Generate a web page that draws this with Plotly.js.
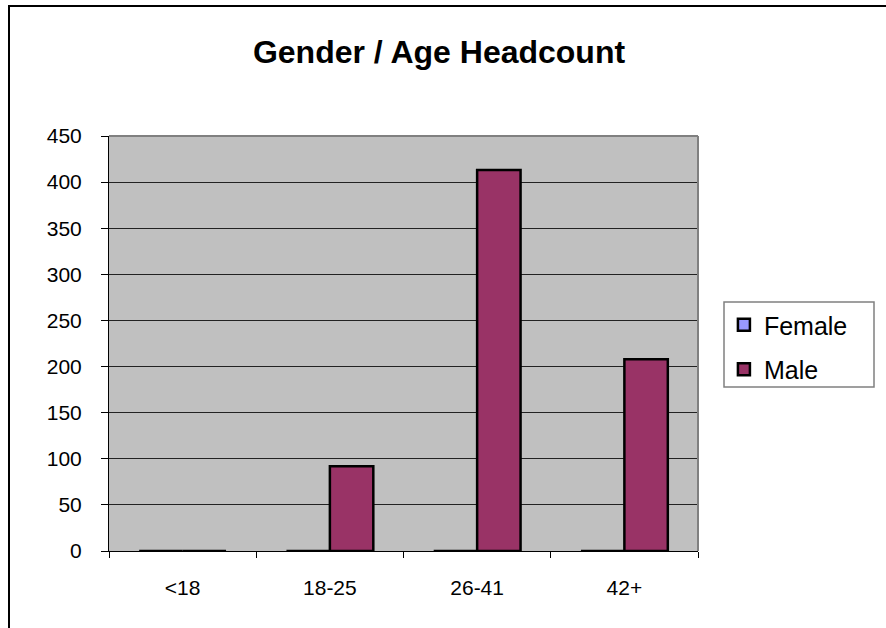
<!DOCTYPE html>
<html>
<head>
<meta charset="utf-8">
<script src="https://cdn.plot.ly/plotly-3.0.1.min.js"></script>
<style>
html,body{margin:0;padding:0;background:#fff;overflow:hidden;}
#wrap{position:relative;width:886px;height:628px;}
#chart{width:886px;height:628px;}
#frame{position:absolute;left:8px;top:5px;width:1000px;height:1000px;border:2px solid #000;pointer-events:none;box-sizing:border-box;}
</style>
</head>
<body>
<div id="wrap">
<div id="chart"></div>
<div id="frame"></div>
</div>
<script>
const categories = ["<18", "18-25", "26-41", "42+"];
const femaleValues = [0, 0, 0, 0];
const maleValues = [0, 92, 413, 208];
const yTicks = [0, 50, 100, 150, 200, 250, 300, 350, 400, 450];

const font = "Liberation Sans, Arial, sans-serif";

const traces = [
  {
    type: "bar", name: "Female", legendgroup: "f", x: categories, y: femaleValues,
    marker: {color: "#9999FF", line: {color: "#000", width: 2.5}}
  },
  {
    type: "bar", name: "Male", legendgroup: "m", x: categories, y: maleValues,
    marker: {color: "#993366", line: {color: "#000", width: 2.5}}
  }
];

// legend frame position (pixels of the reference converted to paper fractions)
const plotL = 109, plotR = 698, plotT = 136, plotB = 551;
const pw = plotR - plotL, ph = plotB - plotT;

const layout = {
  width: 886, height: 628,
  margin: {l: plotL, r: 886 - plotR, t: plotT, b: 628 - plotB, pad: 0},
  paper_bgcolor: "rgba(0,0,0,0)",
  plot_bgcolor: "#C0C0C0",
  title: {text: "<b>Gender / Age Headcount</b>", font: {family: font, size: 32, color: "#000"}, x: 0.4955, xanchor: "center", y: 0.917, yanchor: "middle"},
  barmode: "group",
  bargap: 0.41,
  bargroupgap: 0,
  showlegend: true,
  legend: {
    x: 1.044, xanchor: "left", y: 0.6, yanchor: "top",
    borderwidth: 0, bgcolor: "rgba(0,0,0,0)",
    font: {family: font, size: 25, color: "#000"},
    tracegroupgap: 9, itemwidth: 30
  },
  xaxis: {
    type: "category",
    showline: true, linecolor: "#000", linewidth: 1,
    ticks: "outside", tickson: "boundaries", ticklen: 6, tickcolor: "#000",
    showgrid: false,
    tickfont: {family: font, size: 21, color: "#000"},
    ticklabelstandoff: 18
  },
  yaxis: {
    range: [0, 450], tickvals: yTicks, ticktext: yTicks.map(String),
    showline: true, linecolor: "#000", linewidth: 1,
    ticks: "outside", ticklen: 7, tickcolor: "#000",
    showgrid: true, gridcolor: "#222", gridwidth: 1,
    zeroline: false,
    tickfont: {family: font, size: 21, color: "#000"},
    ticklabelstandoff: 15
  },
  shapes: [
    {type: "line", xref: "paper", yref: "paper", x0: 0, x1: 1, y0: 1, y1: 1, line: {color: "#808080", width: 2}, layer: "above"},
    {type: "line", xref: "paper", yref: "paper", x0: 1, x1: 1, y0: 0, y1: 1, line: {color: "#808080", width: 2}, layer: "above"},
    {type: "rect", xref: "paper", yref: "paper",
     x0: (724 - plotL) / pw, x1: (874 - plotL) / pw,
     y0: (plotB - 387) / ph, y1: (plotB - 302) / ph,
     line: {color: "#808080", width: 1.5}, fillcolor: "#fff", layer: "below"}
  ]
};

Plotly.newPlot("chart", traces, layout, {displayModeBar: false, staticPlot: true});
</script>
</body>
</html>
